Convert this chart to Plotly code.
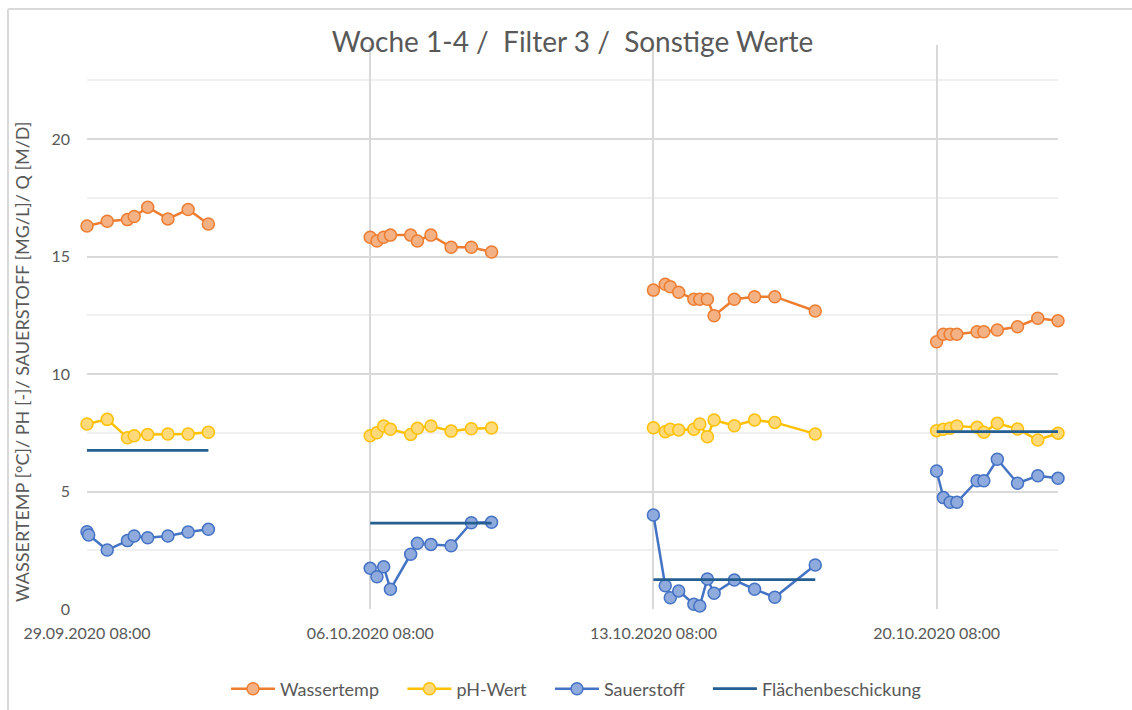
import plotly.graph_objects as go

# Messzeitpunkte je Woche
zeit_w1 = ["2020-09-29 08:00", "2020-09-29 20:00", "2020-09-30 08:00", "2020-09-30 12:00",
           "2020-09-30 20:00", "2020-10-01 08:00", "2020-10-01 20:00", "2020-10-02 08:00"]
zeit_w1_o2 = ["2020-09-29 08:00", "2020-09-29 09:00", "2020-09-29 20:00", "2020-09-30 08:00",
              "2020-09-30 12:00", "2020-09-30 20:00", "2020-10-01 08:00", "2020-10-01 20:00",
              "2020-10-02 08:00"]
zeit_w2 = ["2020-10-06 08:00", "2020-10-06 12:00", "2020-10-06 16:00", "2020-10-06 20:00",
           "2020-10-07 08:00", "2020-10-07 12:00", "2020-10-07 20:00", "2020-10-08 08:00",
           "2020-10-08 20:00", "2020-10-09 08:00"]
zeit_w3 = ["2020-10-13 08:00", "2020-10-13 15:00", "2020-10-13 18:00", "2020-10-13 23:00",
           "2020-10-14 08:00", "2020-10-14 11:30", "2020-10-14 16:00", "2020-10-14 20:00",
           "2020-10-15 08:00", "2020-10-15 20:00", "2020-10-16 08:00", "2020-10-17 08:00"]
zeit_w4 = ["2020-10-20 08:00", "2020-10-20 12:00", "2020-10-20 16:00", "2020-10-20 20:00",
           "2020-10-21 08:00", "2020-10-21 12:00", "2020-10-21 20:00", "2020-10-22 08:00",
           "2020-10-22 20:00", "2020-10-23 08:00"]

# Wassertemperatur [°C]
temp_w1 = [16.30, 16.50, 16.57, 16.70, 17.10, 16.60, 17.00, 16.38]
temp_w2 = [15.82, 15.66, 15.82, 15.91, 15.91, 15.66, 15.91, 15.39, 15.39, 15.19]
temp_w3 = [13.57, 13.82, 13.71, 13.48, 13.18, 13.18, 13.18, 12.48, 13.18, 13.29, 13.29, 12.68]
temp_w4 = [11.37, 11.69, 11.69, 11.69, 11.80, 11.80, 11.87, 12.01, 12.37, 12.27]

# pH-Wert [-]
ph_w1 = [7.87, 8.07, 7.29, 7.37, 7.43, 7.45, 7.45, 7.52]
ph_w2 = [7.37, 7.50, 7.79, 7.65, 7.43, 7.69, 7.79, 7.57, 7.67, 7.70]
ph_w3 = [7.71, 7.54, 7.65, 7.62, 7.65, 7.87, 7.33, 8.04, 7.80, 8.04, 7.94, 7.45]
ph_w4 = [7.59, 7.65, 7.69, 7.79, 7.73, 7.52, 7.90, 7.66, 7.19, 7.48]

# Sauerstoff [mg/l]
o2_w1 = [3.29, 3.15, 2.51, 2.91, 3.11, 3.03, 3.11, 3.28, 3.39]
o2_w2 = [1.73, 1.37, 1.80, 0.84, 2.33, 2.80, 2.75, 2.69, 3.67, 3.69]
o2_w3 = [4.00, 0.99, 0.48, 0.77, 0.20, 0.13, 1.28, 0.67, 1.23, 0.84, 0.50, 1.87]
o2_w4 = [5.87, 4.74, 4.54, 4.54, 5.46, 5.46, 6.37, 5.35, 5.67, 5.56]

# Flächenbeschickung q [m/d], konstant je Woche
flaeche_wochen = [6.75, 3.65, 1.25, 7.55]

x_ticks_start = "2020-09-29 08:00"
x_range = ["2020-09-29 08:00", "2020-10-23 08:00"]


def join_weeks(x_parts, y_parts):
    """Wochen aneinanderhängen, mit Lücke (None) dazwischen."""
    xs, ys = [], []
    for i, (xp, yp) in enumerate(zip(x_parts, y_parts)):
        if i:
            xs.append(None)
            ys.append(None)
        xs.extend(xp)
        ys.extend(yp)
    return xs, ys


zeiten = [zeit_w1, zeit_w2, zeit_w3, zeit_w4]
x_temp, y_temp = join_weeks(zeiten, [temp_w1, temp_w2, temp_w3, temp_w4])
x_ph, y_ph = join_weeks(zeiten, [ph_w1, ph_w2, ph_w3, ph_w4])
x_o2, y_o2 = join_weeks([zeit_w1_o2, zeit_w2, zeit_w3, zeit_w4], [o2_w1, o2_w2, o2_w3, o2_w4])
x_fl, y_fl = join_weeks([[z[0], z[-1]] for z in zeiten], [[v, v] for v in flaeche_wochen])

FONT = "Lato"
GREY = "#595959"
PAD = "&nbsp;" * 4  # Abstand zwischen Legendeneinträgen

fig = go.Figure()


def add_series(x, y, name, line_col, fill_col):
    fig.add_trace(go.Scatter(
        x=x, y=y, name=name, mode="lines+markers",
        line=dict(color=line_col, width=2.5),
        marker=dict(size=12, color=fill_col, line=dict(color=line_col, width=1.5)),
        cliponaxis=False,
    ))


add_series(x_temp, y_temp, "Wassertemp" + PAD, "#ED7D31", "#F4B183")
add_series(x_ph, y_ph, "pH-Wert" + PAD, "#FFC000", "#FFD97A")
add_series(x_o2, y_o2, "Sauerstoff" + PAD, "#4472C4", "#8FAADC")
fig.add_trace(go.Scatter(
    x=x_fl, y=y_fl, name="Flächenbeschickung", mode="lines",
    line=dict(color="#255E91", width=2.75), cliponaxis=False,
))

fig.update_layout(
    width=1132, height=710,
    margin=dict(l=87, r=74, t=45, b=101, autoexpand=False),
    paper_bgcolor="white", plot_bgcolor="white",
    font=dict(family=FONT, color=GREY),
    title=dict(
        text="Woche 1-4 /&nbsp; Filter 3 /&nbsp; Sonstige Werte",
        font=dict(family=FONT, size=28, color=GREY),
        x=0.5, xanchor="center", xref="paper",
        y=1 - 42 / 710, yanchor="middle", yref="container",
    ),
    showlegend=True,
    legend=dict(
        orientation="h", x=0.5036, xanchor="center",
        y=1 - 689 / 710, yanchor="middle", yref="container",
        font=dict(family=FONT, size=18, color=GREY),
        itemwidth=44,
        bgcolor="rgba(0,0,0,0)",
    ),
    xaxis=dict(
        type="date", range=x_range,
        tick0=x_ticks_start, dtick=7 * 24 * 3600 * 1000,
        tickformat="%d.%m.%Y %H:%M",
        showgrid=True, gridcolor="#d9d9d9", gridwidth=1.5,
        showline=False, zeroline=False, ticks="",
        tickfont=dict(family=FONT, size=16, color=GREY),
        ticklabelstandoff=13,
    ),
    yaxis=dict(
        range=[0, 24], tick0=0, dtick=5,
        showgrid=True, gridcolor="#d9d9d9", gridwidth=1.5,
        minor=dict(tick0=0, dtick=2.5, showgrid=True, gridcolor="#f0f0f0", gridwidth=1.5),
        zeroline=False, showline=False, ticks="",
        tickfont=dict(family=FONT, size=16, color=GREY),
        ticklabelstandoff=16,
    ),
    annotations=[dict(
        text="WASSERTEMP [°C]/ PH [-]/ SAUERSTOFF [MG/L]/ Q [M/D]",
        textangle=-90, xref="paper", yref="paper",
        x=(22 - 87) / 971, y=(609 - 362) / 564,
        xanchor="center", yanchor="middle", showarrow=False,
        font=dict(family=FONT, size=18, color=GREY),
    )],
    shapes=[
        dict(type="line", xref="paper", yref="paper",
             x0=(8 - 87) / 971, x1=(1140 - 87) / 971,
             y0=(609 - 9) / 564, y1=(609 - 9) / 564,
             line=dict(color="#d9d9d9", width=2)),
        dict(type="line", xref="paper", yref="paper",
             x0=(8 - 87) / 971, x1=(8 - 87) / 971,
             y0=(609 - 9) / 564, y1=(609 - 712) / 564,
             line=dict(color="#d9d9d9", width=2)),
    ],
)

fig.write_html("out.html")
